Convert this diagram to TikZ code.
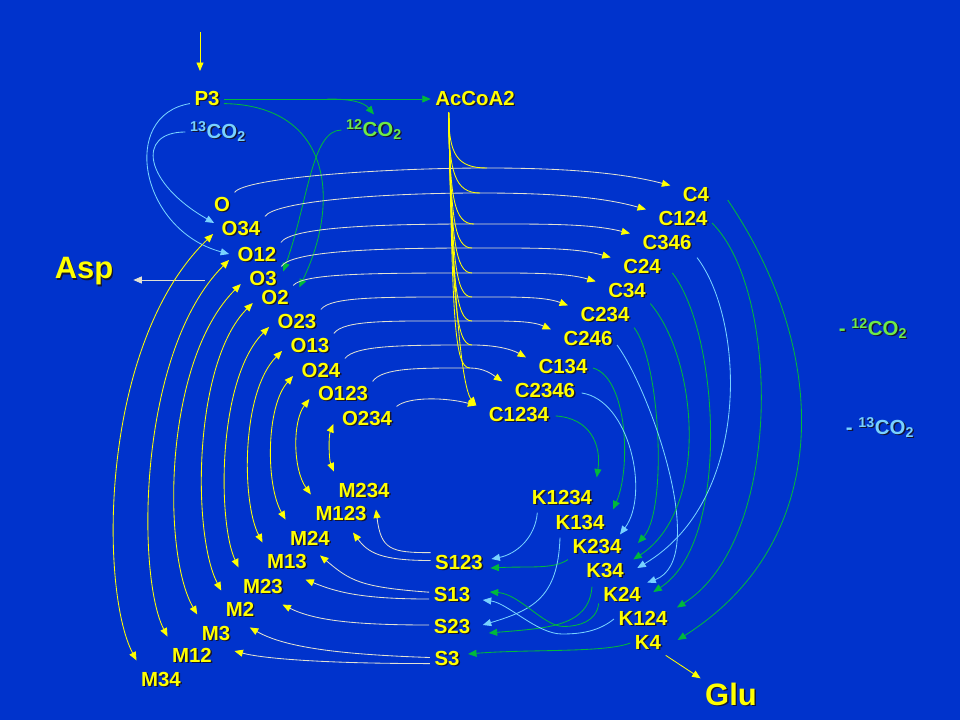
\documentclass[tikz,border=0pt]{standalone}
\usepackage{fontspec}
\setmainfont{Liberation Sans}
\usetikzlibrary{arrows.meta}

\definecolor{slide}{RGB}{0,51,204}
\definecolor{lab}{RGB}{255,255,0}
\definecolor{pale}{RGB}{225,225,210}
\definecolor{grn}{RGB}{0,185,60}
\definecolor{grntext}{RGB}{110,235,70}
\definecolor{cyn}{RGB}{120,210,255}
\definecolor{shade}{RGB}{20,20,50}
\newcommand{\shd}[1]{\makebox[0pt][l]{\raisebox{-1pt}{\hspace*{1pt}\textcolor{shade}{#1}}}#1}

\begin{document}
\begin{tikzpicture}[x=0.025cm,y=-0.025cm,line width=0.6pt,
  main node/.style={font=\fontsize{14.5}{16}\selectfont\bfseries,text=lab,inner sep=3pt},
  big node/.style={font=\fontsize{22}{24}\selectfont\bfseries,text=lab,inner sep=3pt}]
\tikzstyle{pale edge} = [draw=pale,-{Triangle[length=6pt,width=5pt,color=lab]}]
\tikzstyle{yellow edge} = [draw=lab,-{Triangle[length=6pt,width=5pt]}]
\tikzstyle{both edge} = [draw=lab,{Triangle[length=6pt,width=5pt]}-{Triangle[length=6pt,width=5pt]}]
\tikzstyle{green edge} = [draw=grn,-{Triangle[length=6pt,width=5pt]}]
\tikzstyle{cyan edge} = [draw=cyn,-{Triangle[length=6pt,width=5pt]}]

\fill[slide] (0,0) rectangle (960,720);
\useasboundingbox (0,0) rectangle (960,720);

% Top
\node[main node] (P3) at (207,99) {\shd{P3}};
\node[main node] (AcCoA2) at (475,99) {\shd{AcCoA2}};
\node[main node,text=cyn] (co13) at (218,132) {\shd{\textsuperscript{13}CO\textsubscript{2}}};
\node[main node,text=grntext] (co12) at (374,130) {\shd{\textsuperscript{12}CO\textsubscript{2}}};
\node[big node] (Asp) at (84,272) {\shd{Asp}};
\node[big node] (Glu) at (731,695) {\shd{Glu}};

% Oxaloacetate
\node[main node] (O) at (222,205) {\shd{O}};
\node[main node] (O34) at (241,229) {\shd{O34}};
\node[main node] (O12) at (257,255) {\shd{O12}};
\node[main node] (O3) at (263,279) {\shd{O3}};
\node[main node] (O2) at (275,298) {\shd{O2}};
\node[main node] (O23) at (297,322) {\shd{O23}};
\node[main node] (O13) at (310,346) {\shd{O13}};
\node[main node] (O24) at (321,371) {\shd{O24}};
\node[main node] (O123) at (343,394) {\shd{O123}};
\node[main node] (O234) at (367,419) {\shd{O234}};

% Citrate
\node[main node] (C4) at (696,195) {\shd{C4}};
\node[main node] (C124) at (683,219) {\shd{C124}};
\node[main node] (C346) at (667,243) {\shd{C346}};
\node[main node] (C24) at (642,267) {\shd{C24}};
\node[main node] (C34) at (627,291) {\shd{C34}};
\node[main node] (C234) at (605,315) {\shd{C234}};
\node[main node] (C246) at (588,339) {\shd{C246}};
\node[main node] (C134) at (563,367) {\shd{C134}};
\node[main node] (C2346) at (545,391) {\shd{C2346}};
\node[main node] (C1234) at (519,415) {\shd{C1234}};

% Malate
\node[main node] (M234) at (364,491) {\shd{M234}};
\node[main node] (M123) at (341,514) {\shd{M123}};
\node[main node] (M24) at (310,539) {\shd{M24}};
\node[main node] (M13) at (287,562) {\shd{M13}};
\node[main node] (M23) at (263,587) {\shd{M23}};
\node[main node] (M2) at (240,610) {\shd{M2}};
\node[main node] (M3) at (216,634) {\shd{M3}};
\node[main node] (M12) at (192,656) {\shd{M12}};
\node[main node] (M34) at (161,680) {\shd{M34}};

% Succinate
\node[main node] (S123) at (459,563) {\shd{S123}};
\node[main node] (S13) at (452,595) {\shd{S13}};
\node[main node] (S23) at (452,627) {\shd{S23}};
\node[main node] (S3) at (447,659) {\shd{S3}};

% Ketoglutarate
\node[main node] (K1234) at (562,498) {\shd{K1234}};
\node[main node] (K134) at (580,523) {\shd{K134}};
\node[main node] (K234) at (597,547) {\shd{K234}};
\node[main node] (K34) at (605,571) {\shd{K34}};
\node[main node] (K24) at (622,595) {\shd{K24}};
\node[main node] (K124) at (643,619) {\shd{K124}};
\node[main node] (K4) at (648,643) {\shd{K4}};

% Legend
\node[main node,text=grntext] (mco12) at (873,329) {\shd{- \textsuperscript{12}CO\textsubscript{2}}};
\node[main node,text=cyn] (mco13) at (880,428) {\shd{- \textsuperscript{13}CO\textsubscript{2}}};

% Input and outputs
\coordinate (feed) at (200,32);
\draw[yellow edge,shorten >=11pt] (feed) -- (feed |- P3.north);
\coordinate (aspsrc) at (205,280);
\draw[draw=pale,-{Triangle[length=6pt,width=5pt]},shorten >=11pt] (aspsrc) -- (aspsrc -| Asp.east);
\draw[yellow edge] (K4.south east) -- (Glu.north west);

% Pyruvate
\draw[green edge] (P3.east) -- coordinate (fork) (AcCoA2.west);
\draw[green edge] (fork) .. controls +(25,0) and +(-10,-12) .. (co12.north);
\draw[green edge] (P3.-15) .. controls +(107,2) and +(42,-87) .. ([shift={(6,2)}]O2.north east);
\draw[green edge] (co12.west) .. controls +(-30,0) and +(25,-70) .. ([shift={(2,5)}]O3.north east);
\draw[cyan edge] (P3.195) .. controls +(-71,12) and +(-89,-24) .. ([shift={(-4,-1)}]O12.west);
\draw[cyan edge] (co13.west) .. controls +(-50,0) and +(-70,-40) .. ([shift={(-3,-6)}]O34.west);

% Junctions with acetyl-CoA
\coordinate (jC4) at (487,168);
\coordinate (jC124) at (480,193);
\coordinate (jC346) at (474,224);
\coordinate (jC24) at (472,248);
\coordinate (jC34) at (472,273);
\coordinate (jC234) at (472,297);
\coordinate (jC246) at (472,321);
\coordinate (jC134) at (472,345);
\coordinate (jC2346) at (470,368);
\coordinate (acd) at ([shift={(18,1)}]AcCoA2.south west);

% Oxaloacetate to citrate
\draw[pale edge] (O.north east) .. controls +(10,-15) and +(-100,0) .. (jC4) .. controls +(83,0) and +(-46,-12) .. ([shift={(-8,3)}]C4.north west);
\draw[pale edge] (O34.north east) .. controls +(10,-15) and +(-100,0) .. (jC124) .. controls +(75,0) and +(-42,-12) .. ([shift={(-8,3)}]C124.north west);
\draw[pale edge] (O12.north east) .. controls +(10,-15) and +(-100,0) .. (jC346) .. controls +(70,0) and +(-40,-10) .. ([shift={(-8,3)}]C346.north west);
\draw[pale edge] (O3.north east) .. controls +(10,-15) and +(-100,0) .. (jC24) .. controls +(62,0) and +(-35,-10) .. ([shift={(-8,3)}]C24.north west);
\draw[pale edge] (O2.north east) .. controls +(10,-12) and +(-100,0) .. (jC34) .. controls +(55,0) and +(-30,-9) .. ([shift={(-8,3)}]C34.north west);
\draw[pale edge] (O23.north east) .. controls +(10,-13) and +(-90,0) .. (jC234) .. controls +(43,0) and +(-24,-9) .. ([shift={(-8,3)}]C234.north west);
\draw[pale edge] (O13.north east) .. controls +(10,-14) and +(-80,0) .. (jC246) .. controls +(35,0) and +(-20,-9) .. ([shift={(-8,3)}]C246.north west);
\draw[pale edge] (O24.north east) .. controls +(10,-13) and +(-70,0) .. (jC134) .. controls +(24,0) and +(-14,-8) .. ([shift={(-8,3)}]C134.north west);
\draw[pale edge] (O123.north east) .. controls +(10,-14) and +(-50,0) .. (jC2346) .. controls +(14,0) and +(-10,-7) .. ([shift={(-8,3)}]C2346.north west);
\draw[pale edge] (O234.north east) .. controls +(12,-10) and +(-30,-8) .. ([shift={(-8,3)}]C1234.north west);

% Acetyl-CoA
\draw[lab] (acd) .. controls +(0,42) and +(-30,0) .. (jC4);
\draw[lab] (acd) .. controls +(0,60) and +(-25,0) .. (jC124);
\draw[lab] (acd) .. controls +(1,85) and +(-20,0) .. (jC346);
\draw[lab] (acd) .. controls +(2,105) and +(-18,0) .. (jC24);
\draw[lab] (acd) .. controls +(2,125) and +(-17,0) .. (jC34);
\draw[lab] (acd) .. controls +(3,145) and +(-17,0) .. (jC234);
\draw[lab] (acd) .. controls +(3,165) and +(-17,0) .. (jC246);
\draw[lab] (acd) .. controls +(4,185) and +(-17,0) .. (jC134);
\draw[lab] (acd) .. controls +(4,205) and +(-16,0) .. (jC2346);
\draw[yellow edge] (acd) .. controls +(5,240) and +(-10,-12) .. ([shift={(-8,3)}]C1234.north west);

% Oxaloacetate and malate
\draw[both edge] ([shift={(-4,5)}]O34.west) .. controls +(-114,110) and +(-37,-70) .. ([shift={(0,-7)}]M34.north west);
\draw[both edge] ([shift={(-4,5)}]O12.west) .. controls +(-92,92) and +(-31,-60) .. ([shift={(0,-7)}]M12.north west);
\draw[both edge] ([shift={(-4,5)}]O3.west) .. controls +(-78,78) and +(-35,-60) .. ([shift={(0,-7)}]M3.north west);
\draw[both edge] ([shift={(-4,5)}]O2.west) .. controls +(-60,60) and +(-29,-55) .. ([shift={(0,-7)}]M2.north west);
\draw[both edge] ([shift={(-4,5)}]O23.west) .. controls +(-52,52) and +(-21,-45) .. ([shift={(0,-7)}]M23.north west);
\draw[both edge] ([shift={(-4,5)}]O13.west) .. controls +(-41,41) and +(-21,-40) .. ([shift={(0,-7)}]M13.north west);
\draw[both edge] ([shift={(-4,5)}]O24.west) .. controls +(-27,30) and +(-20,-35) .. ([shift={(0,-7)}]M24.north west);
\draw[both edge] ([shift={(-4,5)}]O123.west) .. controls +(-17,22) and +(-18,-25) .. ([shift={(0,-7)}]M123.north west);
\draw[both edge] ([shift={(-4,5)}]O234.west) .. controls +(-5,12) and +(-5,-12) .. ([shift={(0,-7)}]M234.north west);

% Succinate to malate
\draw[pale edge] (S123.160) .. controls +(-40,0) and +(5,40) .. ([shift={(12,6)}]M234.south);
\draw[pale edge] (S123.175) .. controls +(-50,0) and +(15,20) .. ([shift={(12,6)}]M123.south);
\draw[pale edge] (S13.173) .. controls +(-70,-5) and +(30,25) .. ([shift={(10,4)}]M24.south);
\draw[pale edge] (S13.190) .. controls +(-70,0) and +(30,12) .. ([shift={(-6,5)}]M13.south east);
\draw[pale edge] (S23.175) .. controls +(-80,0) and +(30,15) .. ([shift={(-5,5)}]M23.south east);
\draw[pale edge] (S3.175) .. controls +(-90,-3) and +(35,20) .. ([shift={(-9,5)}]M2.south east);
\draw[pale edge] (S3.195) .. controls +(-100,0) and +(30,8) .. ([shift={(18,-5)}]M12.east);

% Citrate to ketoglutarate
\draw[green edge] ([shift={(2,1)}]C1234.east) .. controls +(34,2) and +(5,-33) .. ([shift={(0,-8)}]K1234.north east);
\draw[green edge] ([shift={(1,1)}]C134.east) .. controls +(35,10) and +(18,-40) .. ([shift={(4,-1)}]K134.north east);
\draw[cyan edge] ([shift={(2,2)}]C2346.east) .. controls +(48,7) and +(30,-40) .. ([shift={(-6,0)}]K234.north east);
\draw[green edge] (C234.south east) .. controls +(26,33) and +(30,-33) .. ([shift={(12,-4)}]K234.east);
\draw[cyan edge] ([shift={(0,6)}]C246.east) .. controls +(33,45) and +(63,-23) .. ([shift={(2,0)}]K24.north east);
\draw[green edge] (C34.south east) .. controls +(47,55) and +(77,-50) .. ([shift={(5,1)}]K34.north east);
\draw[green edge] ([shift={(7,6)}]C24.east) .. controls +(47,60) and +(78,-50) .. ([shift={(8,-3)}]K24.east);
\draw[cyan edge] ([shift={(1,2)}]C346.south east) .. controls +(48,63) and +(115,-68) .. ([shift={(9,-3)}]K34.east);
\draw[green edge] ([shift={(0,4)}]C124.east) .. controls +(68,67) and +(107,-68) .. ([shift={(5,1)}]K124.north east);
\draw[green edge] ([shift={(14,5)}]C4.east) .. controls +(102,150) and +(158,-100) .. ([shift={(12,-3)}]K4.east);

% Ketoglutarate to succinate
\coordinate (k24low) at ([shift={(-35,23)}]K24.200);
\coordinate (k124low) at ([shift={(-52,15)}]K124.west);
\draw[cyan edge] ([shift={(10,2)}]K1234.south west) .. controls +(-2,25) and +(25,-5) .. ([shift={(4,-4)}]S123.east);
\draw[green edge] (K234.south west) .. controls +(-15,10) and +(40,-2) .. ([shift={(3,5)}]S123.east);
\draw[cyan edge] ([shift={(-20,2)}]K134.south) .. controls +(-2,60) and +(50,-15) .. ([shift={(8,-2)}]S23.east);
\draw[green edge] ([shift={(-13,3)}]K34.south) .. controls +(-3,40) and +(60,-5) .. ([shift={(14,6)}]S23.east);
\draw[green edge] (K24.200) .. controls +(-2,18) and +(15,0) .. (k24low) .. controls +(-20,0) and +(30,2) .. ([shift={(15,-3)}]S13.east);
\draw[cyan edge] (K124.west) .. controls +(-15,12) and +(20,0) .. (k124low) .. controls +(-25,0) and +(25,3) .. ([shift={(8,5)}]S13.east);
\draw[green edge] (K4.west) .. controls +(-25,10) and +(60,-5) .. ([shift={(4,-5)}]S3.east);

\end{tikzpicture}
\end{document}
